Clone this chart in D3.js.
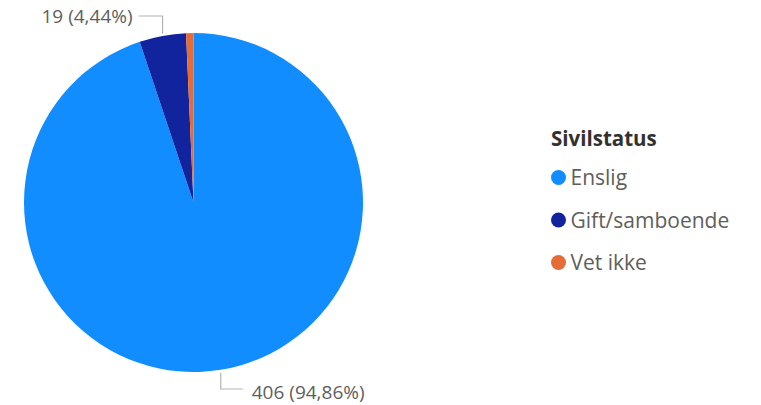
<!DOCTYPE html>
<html>
<head>
<meta charset="utf-8">
<script src="https://cdn.jsdelivr.net/npm/d3@7"></script>
<style>
  body { margin: 0; background: #fff; }
  svg { display: block; font-family: "Open Sans", "Noto Sans", sans-serif; }
</style>
</head>
<body>
<svg id="chart" width="761" height="405"></svg>
<script>
// data
var categories = ["Enslig", "Gift/samboende", "Vet ikke"];
var counts = [406, 19, 3];
var labelText = ["406 (94,86%)", "19 (4,44%)", ""];
var colors = ["#118DFF", "#12239E", "#E66C37"];
var legendTitle = "Sivilstatus";

var svg = d3.select("#chart");
var cx = 193.5, cy = 202.5, r = 169.5;

var data = categories.map(function(c, i){ return {name: c, value: counts[i], label: labelText[i]}; });

var pie = d3.pie().sort(null).value(function(d){ return d.value; });
var arc = d3.arc().innerRadius(0).outerRadius(r);
var edge = d3.arc().innerRadius(r).outerRadius(r);

var g = svg.append("g").attr("transform", "translate(" + cx + "," + cy + ")");
var arcs = pie(data);

g.selectAll("path.slice")
    .data(arcs)
    .enter()
    .append("path")
    .attr("class", "slice")
    .attr("d", arc)
    .attr("fill", function(d, i){ return colors[i]; });

// leader lines + labels (only slices with a label)
var lab = arcs.filter(function(d){ return d.data.label !== ""; });
lab.forEach(function(d){
    var mid = (d.startAngle + d.endAngle) / 2;
    var p = edge.centroid(d);
    var top = Math.cos(mid) > 0;      // upper half
    var right = Math.sin(mid) > 0;
    var yEnd = top ? -r - 17 : r + 17;
    var dir = right ? 1 : -1;
    var x0 = p[0], y0 = p[1] + (top ? -2 : 3);
    var x1 = x0 + dir * (right ? 22 : 24);
    g.append("polyline")
        .attr("points", [[x0, y0], [x0, yEnd], [x1, yEnd]].map(function(q){ return q.join(","); }).join(" "))
        .attr("fill", "none")
        .attr("stroke", "#b3b3b3")
        .attr("stroke-width", 1.2);
    g.append("text")
        .attr("x", x1 + dir * (right ? 9 : 6))
        .attr("y", yEnd + (top ? 7 : 10))
        .attr("text-anchor", right ? "start" : "end")
        .attr("font-size", 19)
        .attr("fill", "#605E5C")
        .text(d.data.label);
});

// legend
var legend = svg.append("g").attr("transform", "translate(551,0)");
legend.append("text")
    .attr("x", 0)
    .attr("y", 146)
    .attr("font-size", 20.5)
    .attr("font-weight", "bold")
    .attr("fill", "#323130")
    .text(legendTitle);

var rowY = d3.scalePoint().domain(categories).range([177.5, 262.5]);
var item = legend.selectAll("g.item")
    .data(categories)
    .enter()
    .append("g")
    .attr("class", "item")
    .attr("transform", function(d){ return "translate(0," + rowY(d) + ")"; });
item.append("circle")
    .attr("cx", 7.5)
    .attr("cy", 0)
    .attr("r", 7.5)
    .attr("fill", function(d, i){ return colors[i]; });
item.append("text")
    .attr("x", 19.5)
    .attr("y", 7.5)
    .attr("font-size", 21)
    .attr("fill", "#605E5C")
    .text(function(d){ return d; });
</script>
</body>
</html>
